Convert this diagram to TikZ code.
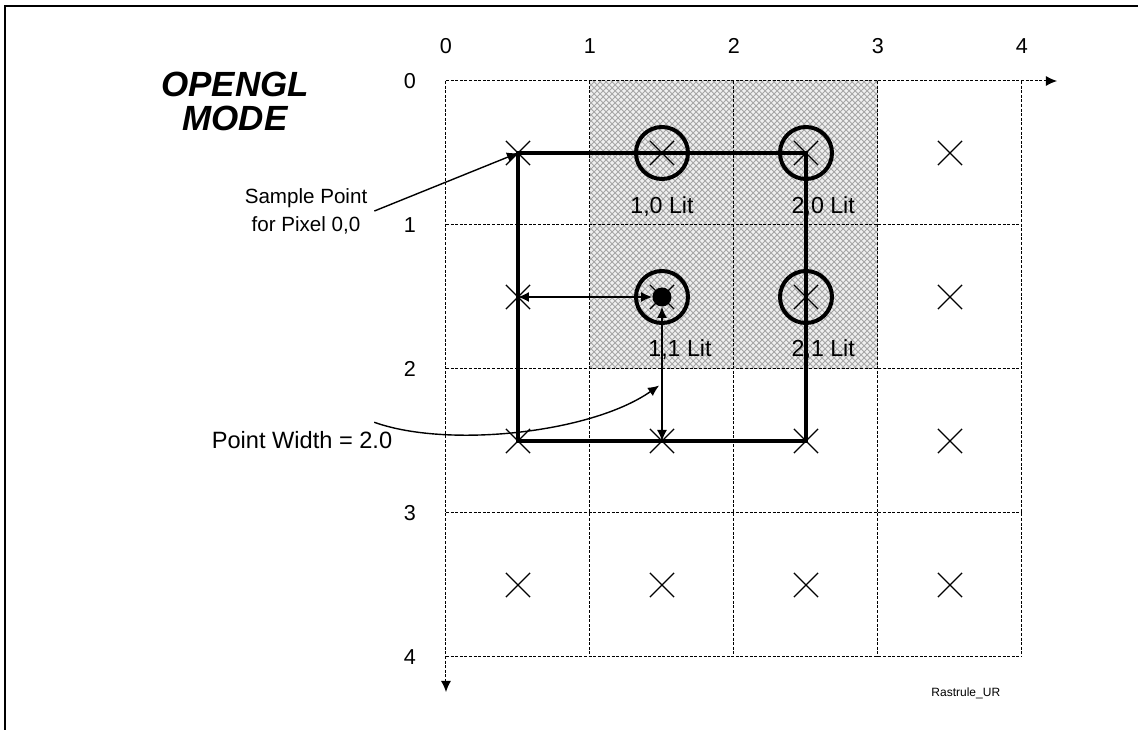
\documentclass[tikz,border=0pt]{standalone}
\usepackage{fontspec}
\setmainfont{Liberation Sans}
\usepackage{tikz}
\usetikzlibrary{arrows.meta,patterns,shapes.misc}

\begin{document}
\begin{tikzpicture}[x=72pt,y=-72pt,
  font=\fontsize{10.8}{14}\selectfont,
  gridline/.style={line width=0.5pt,dash pattern=on 1.5pt off 0.8pt},
  xmark/.style={cross out,draw,line width=0.6pt,minimum size=11.5pt,inner sep=0pt},
  ring/.style={circle,draw,line width=2pt,minimum size=26pt,inner sep=0pt},
  dot/.style={circle,fill,minimum size=9.5pt,inner sep=0pt},
  litlabel/.style={font=\fontsize{11.6}{14}\selectfont},
  tip/.style={-{Latex[length=5.5pt,width=5pt]}},
  dim/.style={line width=0.7pt,{Latex[length=5.5pt,width=5pt]}-{Latex[length=5.5pt,width=5pt]}}]
\useasboundingbox (-3.0972,-0.5625) rectangle (4.8056,4.5069);
% frame
\draw[line width=1.3pt] (-3.0625,4.7) -- (-3.0625,-0.521) -- (4.9,-0.521);
% lit pixels
\fill[gray!12] (1,0) rectangle (3,2);
\fill[pattern=crosshatch,pattern color=gray!70] (1,0) rectangle (3,2);
% grid and axes
\foreach \k in {1,...,4} {
  \draw[gridline] (0,\k) -- (4,\k);
  \draw[gridline] (\k,0) -- (\k,4);
}
\draw[gridline,tip] (0,0) -- (4.243,0);
\draw[gridline,tip] (0,0) -- (0,4.243);
\foreach \k in {0,...,4} {
  \node (tx\k) at (\k,-0.243) {\k};
  \node (ty\k) at (-0.25,\k) {\k};
}
% sample points
\foreach \i in {0,...,3}
  \foreach \j in {0,...,3}
    \node[xmark] (p\i\j) at (\i+0.5,\j+0.5) {};
\draw[line width=2.2pt] (p00.center) rectangle (p22.center);
\foreach \i/\j in {1/0,2/0,1/1,2/1}
  \node[ring] (r\i\j) at (p\i\j) {};
\node[dot] (dot) at (p11) {};
\node[litlabel] (lit10) at (1.5,0.875) {1,0 Lit};
\node[litlabel] (lit20) at (2.62,0.875) {2,0 Lit};
\node[litlabel] (lit11) at (1.625,1.868) {1,1 Lit};
\node[litlabel] (lit21) at (2.62,1.868) {2,1 Lit};
\draw[dim] (dot) -- (p01.center);
\draw[dim] (dot) -- (p12.center);
% labels
\node[font=\fontsize{17.5}{17}\selectfont\bfseries\itshape,align=center] (mode) at (-1.465,0.139) {OPENGL\\MODE};
\node[font=\fontsize{10.3}{14}\selectfont,align=center] (sample) at (-0.972,0.903) {Sample Point\\for Pixel 0,0};
\draw[tip,line width=0.7pt] (sample.east) -- (p00.center);
\node[font=\fontsize{11.8}{14}\selectfont] (pw) at (-1.0,2.493) {Point Width = 2.0};
\coordinate (pwtip) at (1.48,2.115);
\draw[tip,line width=0.7pt] ([xshift=-12.5pt,yshift=1pt]pw.north east) .. controls (0,2.55) and (1,2.45) .. (pwtip);
\node[font=\fontsize{6}{7}\selectfont] (tag) at (3.61,4.25) {Rastrule\_UR};
\end{tikzpicture}
\end{document}
